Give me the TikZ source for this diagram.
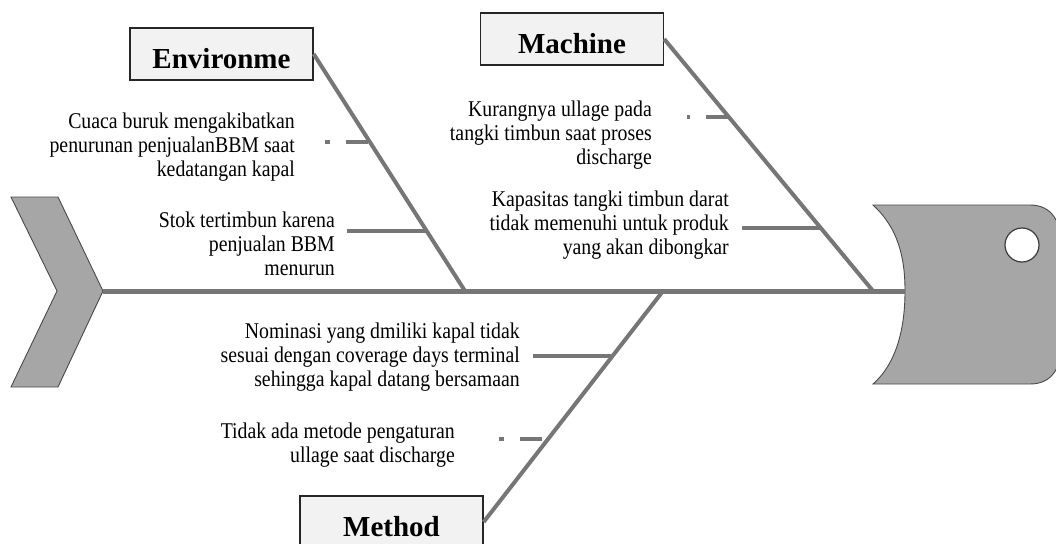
\documentclass[tikz,border=0pt]{standalone}
\usepackage{fontspec}
\setmainfont{Liberation Serif}
\newfontfamily\causefont[FakeStretch=0.88]{Liberation Serif}
\definecolor{bonegray}{HTML}{767676}
\definecolor{fishgray}{HTML}{A6A6A6}
\definecolor{edgegray}{HTML}{4A4A4A}
\definecolor{boxfill}{HTML}{F2F2F2}
\tikzset{
  bone/.style={draw=bonegray, line width=4pt},
  spineline/.style={draw=bonegray, line width=5pt},
  subbone/.style={draw=bonegray, line width=4.5pt},
  dashdot/.style={subbone, dash pattern=on 22pt off 16pt on 5pt off 60pt},
  catbox/.style={draw=black!85, line width=1.3pt, fill=boxfill,
     font=\bfseries\fontsize{29}{30}\selectfont,
     minimum width=183pt, minimum height=52pt, text height=28pt, text depth=0pt, inner sep=2pt},
  cause/.style={font=\causefont\fontsize{22.5}{24}\selectfont, align=right, inner sep=0pt, anchor=east},
  fishbody/.style={fill=fishgray, draw=edgegray, line width=0.9pt}
}
\begin{document}
\begin{tikzpicture}[x=1pt, y=-1pt]
\useasboundingbox (0,0) rectangle (1056,543);

% tail
\draw[fishbody] (11,197) -- (58,197) -- (103,291) -- (58,387) -- (11,387) -- (57,291) -- cycle;
% head
\draw[fishbody] (873,205) -- (1030,205) .. controls (1052,205) and (1062,222) .. (1062,250)
  -- (1062,340) .. controls (1062,368) and (1052,384) .. (1030,384) -- (873,384)
  .. controls (898,362) and (905,325) .. (905,291)
  .. controls (905,257) and (898,228) .. (873,205) -- cycle;
\draw[fill=white, draw=edgegray!80!black, line width=1.2pt] (1022,245) circle (17);

\coordinate (tailtip) at (103,291);
\coordinate (mouth) at (905,291);
\draw[spineline] (tailtip) -- (mouth);

% category boxes
\node[catbox] (env) at (221.5,54) {Environme};
\node[catbox] (mac) at (572,39) {Machine};
\node[catbox] (met) at (391.5,522) {Method};

% joints on spine
\coordinate (envj) at (465,291);
\coordinate (macj) at (873,291);
\coordinate (metj) at (663,291);

\draw[bone] (env.east) -- (envj);
\draw[bone] (mac.east) -- (macj);
\draw[bone] (met.east) -- (metj);

% sub-bone points
\coordinate (e1) at (368,142); \coordinate (e1end) at (324,142);
\coordinate (e2) at (426,231); \coordinate (e2end) at (347,231);
\coordinate (m1) at (728,117); \coordinate (m1end) at (687,117);
\coordinate (m2) at (820.5,228); \coordinate (m2end) at (742,228);
\coordinate (t1) at (611,356); \coordinate (t1end) at (533,356);
\coordinate (t2) at (542,439); \coordinate (t2end) at (495,439);

\draw[dashdot] (e1) -- (e1end);
\draw[subbone] (e2) -- (e2end);
\draw[dashdot] (m1) -- (m1end);
\draw[subbone] (m2) -- (m2end);
\draw[subbone] (t1) -- (t1end);
\draw[dashdot] (t2) -- (t2end);

% causes
\node[cause] (c1) at (295,147) {Cuaca buruk mengakibatkan\\penurunan penjualanBBM saat\\kedatangan kapal};
\node[cause] (c2) at (335,244) {Stok tertimbun karena\\penjualan BBM\\menurun};
\node[cause] (c3) at (652,135) {Kurangnya ullage pada\\tangki timbun saat proses\\discharge};
\node[cause] (c4) at (729,225) {Kapasitas tangki timbun darat\\tidak memenuhi untuk produk\\yang akan dibongkar};
\node[cause] (c5) at (520,357) {Nominasi yang dmiliki kapal tidak\\sesuai dengan coverage days terminal\\sehingga kapal datang bersamaan};
\node[cause] (c6) at (455,445) {Tidak ada metode pengaturan\\ullage saat discharge};
\end{tikzpicture}
\end{document}
